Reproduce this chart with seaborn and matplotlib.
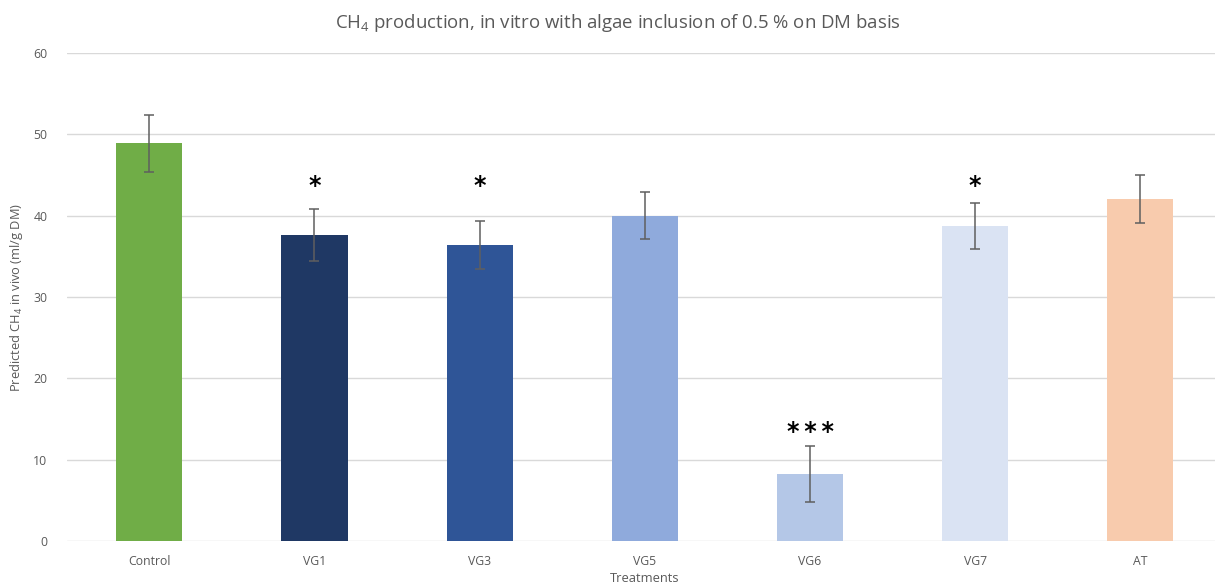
import matplotlib
matplotlib.use("Agg")
import matplotlib.pyplot as plt
import seaborn as sns
import pandas as pd

treatments = ["Control", "VG1", "VG3", "VG5", "VG6", "VG7", "AT"]
ch4_values = [48.9, 37.6, 36.4, 40.0, 8.2, 38.7, 42.1]
ch4_errors = [3.5, 3.2, 2.9, 2.85, 3.45, 2.85, 2.95]
bar_colors = ["#70AD47", "#1F3864", "#2F5597", "#8FAADC", "#B4C7E7", "#DAE3F3", "#F8CBAD"]
sig_labels = ["", "*", "*", "", "*\u2009*\u2009*", "*", ""]
sig_y = [0, 43.7, 43.7, 0, 13.4, 43.7, 0]
y_ticks = [0, 10, 20, 30, 40, 50, 60]

sns.set_theme(style="white")
plt.rcParams["font.family"] = ["Open Sans", "DejaVu Sans"]
plt.rcParams["mathtext.fontset"] = "custom"
plt.rcParams["mathtext.rm"] = "Open Sans"
plt.rcParams["mathtext.it"] = "Open Sans"

df = pd.DataFrame({"Treatment": treatments, "CH4": ch4_values})

fig = plt.figure(figsize=(12.15, 5.85), dpi=100)
ax = fig.add_axes([66.7 / 1215, 1 - 541 / 585, (1223 - 66.7) / 1215, (541 - 53) / 585])

sns.barplot(data=df, x="Treatment", y="CH4", hue="Treatment", palette=bar_colors,
            order=treatments, hue_order=treatments, width=0.4, errorbar=None,
            legend=False, ax=ax, saturation=1, edgecolor="none")

ax.errorbar(x=range(len(treatments)), y=ch4_values, yerr=ch4_errors, fmt="none",
            ecolor="#5f5f5f", elinewidth=1.1, capsize=3.5, capthick=1.1, zorder=5)

for i, (lab, yy) in enumerate(zip(sig_labels, sig_y)):
    if lab:
        ax.text(i, yy, lab, ha="center", va="center", fontsize=17, color="black",
                fontweight="bold", family=["DejaVu Sans"])

ax.set_ylim(0, 60)
ax.set_xlim(-0.5, len(treatments) - 0.5)
ax.set_yticks(y_ticks)
ax.yaxis.grid(True, color="#D9D9D9", linewidth=1.0)
ax.set_axisbelow(True)
for s in ax.spines.values():
    s.set_visible(False)
ax.tick_params(axis="both", length=0, labelsize=8.8, labelcolor="#595959", pad=10)
ax.tick_params(axis="y", pad=14)

ax.set_xlabel("Treatments", fontsize=9.3, color="#595959", labelpad=3)
ax.set_ylabel("Predicted CH$_4$ in vivo (ml/g DM)", fontsize=9.3, color="#595959", labelpad=6)

fig.text(618 / 1215, 1 - 23 / 585, "CH$_4$ production, in vitro with algae inclusion of 0.5 % on DM basis",
         ha="center", va="center", fontsize=13.4, color="#595959")

fig.savefig("out.png", dpi=100)
